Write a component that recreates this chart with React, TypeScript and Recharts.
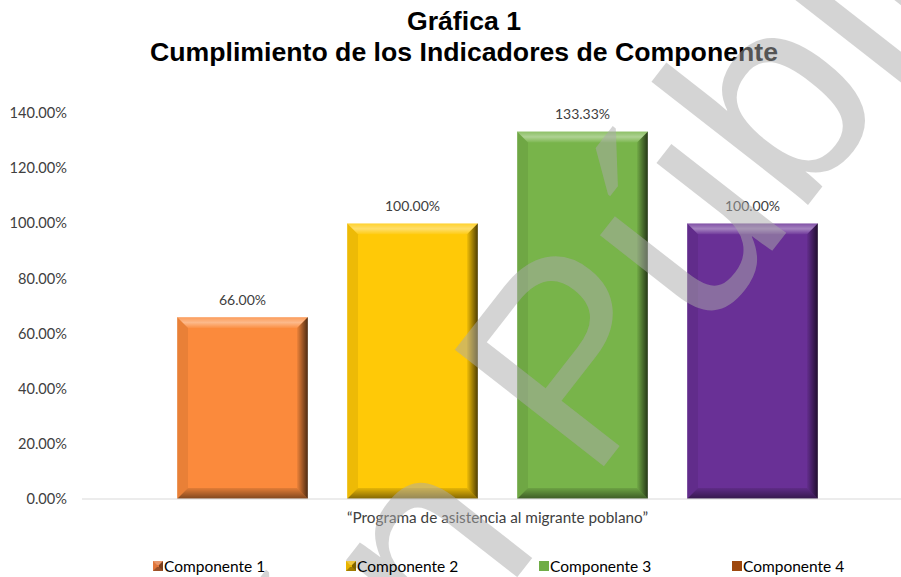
import React from 'react';
import { BarChart, Bar, XAxis, YAxis, LabelList } from 'recharts';

const categories = ['\u201cPrograma de asistencia al migrante poblano\u201d'];
const seriesNames = ['Componente 1', 'Componente 2', 'Componente 3', 'Componente 4'];
const componente1 = [0.66];
const componente2 = [1.0];
const componente3 = [1.3333];
const componente4 = [1.0];
const yTicks = [0, 0.2, 0.4, 0.6, 0.8, 1.0, 1.2, 1.4];
const titleLines = ['Gráfica 1', 'Cumplimiento de los Indicadores de Componente'];
const watermarkWords = ['Versión', 'Pública'];

const seriesValues = [componente1, componente2, componente3, componente4];
const barColors = ['#FB8A3C', '#FFC907', '#78B44A', '#693096'];
const legendColors = ['#E0753A', '#E8B400', '#70AD47', '#9E480E'];
const keys = ['c1', 'c2', 'c3', 'c4'];

const data = categories.map((name, i) => {
  const row: Record<string, any> = { name };
  keys.forEach((k, j) => {
    row[k] = seriesValues[j][i];
  });
  return row;
});

const fmt = (v: any) => (Number(v) * 100).toFixed(2) + '%';

const BevelBar = (props: any) => {
  const { x, y, width, height, fill, index } = props;
  if (!width || !height) return null;
  const w = width;
  const h = height;
  const b = Math.min(11, w / 2, h / 2);
  const gid = 'rg-' + fill.replace('#', '') + '-' + index;
  return (
    <g>
      <defs>
        <linearGradient id={gid} x1="0" y1="0" x2="1" y2="0">
          <stop offset="0" stopColor="#000" stopOpacity="0.05" />
          <stop offset="1" stopColor="#000" stopOpacity="0.7" />
        </linearGradient>
        <linearGradient id={gid + 'b'} x1="0" y1="0" x2="0" y2="1">
          <stop offset="0" stopColor="#000" stopOpacity="0.1" />
          <stop offset="1" stopColor="#000" stopOpacity="0.5" />
        </linearGradient>
        <linearGradient id={gid + 't'} x1="0" y1="0" x2="0" y2="1">
          <stop offset="0" stopColor="#fff" stopOpacity="0.15" />
          <stop offset="0.5" stopColor="#fff" stopOpacity="0.4" />
          <stop offset="1" stopColor="#fff" stopOpacity="0.05" />
        </linearGradient>
      </defs>
      <rect x={x} y={y} width={w} height={h} fill={fill} />
      <polygon
        points={`${x},${y} ${x + w},${y} ${x + w - b},${y + b} ${x + b},${y + b}`}
        fill={`url(#${gid}t)`}
      />
      <polygon
        points={`${x},${y} ${x + b},${y + b} ${x + b},${y + h - b} ${x},${y + h}`}
        fill="#000"
        fillOpacity={0.07}
      />
      <polygon
        points={`${x + w},${y} ${x + w},${y + h} ${x + w - b},${y + h - b} ${x + w - b},${y + b}`}
        fill={`url(#${gid})`}
      />
      <polygon
        points={`${x},${y + h} ${x + w},${y + h} ${x + w - b},${y + h - b} ${x + b},${y + h - b}`}
        fill={`url(#${gid}b)`}
      />
      <rect x={x} y={y} width={w} height={h} fill="none" stroke="#fff" strokeOpacity={0.35} strokeWidth={1} />
    </g>
  );
};

const LegendIcon = ({ color, bevel }: { color: string; bevel: boolean }) => (
  <svg width={10} height={10} style={{ display: 'block' }}>
    <rect x={0} y={0} width={10} height={10} fill={color} />
    {bevel && (
      <>
        <polygon points="10,0 10,10 6,6 6,4" fill="#000" fillOpacity={0.45} />
        <polygon points="0,10 10,10 6,6 4,6" fill="#000" fillOpacity={0.3} />
        <polygon points="0,0 10,0 6,4 4,4" fill="#fff" fillOpacity={0.25} />
      </>
    )}
  </svg>
);

export default function App() {
  return (
    <div style={{ position: 'absolute', left: 0, top: 0, width: 901, height: 577, background: '#fff', overflow: 'hidden' }}>
      <BarChart
        width={901}
        height={577}
        data={data}
        margin={{ top: 113, right: 0, bottom: 48, left: 0 }}
        barSize={131}
        barGap={39}
      >
        <XAxis
          dataKey="name"
          height={30}
          tickSize={0}
          tickMargin={13}
          padding={{ left: 12, right: 0 }}
          axisLine={{ stroke: '#D9D9D9', strokeWidth: 1 }}
          tick={{ fill: '#404040', fontSize: 15.3, fontFamily: 'Lato, sans-serif' }}
        />
        <YAxis
          width={82}
          domain={[0, 1.4]}
          ticks={yTicks}
          tickFormatter={fmt}
          axisLine={false}
          tickLine={false}
          tickSize={0}
          tickMargin={15}
          interval={0}
          tick={{ fill: '#404040', fontSize: 14.6, fontFamily: 'Lato, sans-serif' }}
        />
        {keys.map((k, i) => (
          <Bar key={k} dataKey={k} name={seriesNames[i]} fill={barColors[i]} shape={BevelBar} isAnimationActive={false}>
            <LabelList
              dataKey={k}
              position="top"
              offset={12}
              formatter={fmt}
              style={{ fill: '#404040', fontSize: 14, fontFamily: 'Lato, sans-serif' }}
            />
          </Bar>
        ))}
      </BarChart>

      <svg width={901} height={577} style={{ position: 'absolute', left: 0, top: 0, pointerEvents: 'none' }}>
        <text x={464} y={30} textAnchor="middle" fontFamily="'Liberation Sans', Arial, sans-serif" fontWeight="bold" fontSize={26.67} fill="#000">
          {titleLines[0]}
        </text>
        <text x={464} y={61} textAnchor="middle" fontFamily="'Liberation Sans', Arial, sans-serif" fontWeight="bold" fontSize={26.67} fill="#000">
          {titleLines[1]}
        </text>
        <g transform="translate(590,484) rotate(-52)">
          <text x={-76} y={0} textAnchor="end" fontFamily="'Liberation Sans', Arial, sans-serif" fontSize={275} fill="#A9A9A9" fillOpacity={0.5}>
            {watermarkWords[0]}
          </text>
          <text x={0} y={0} textAnchor="start" fontFamily="'Liberation Sans', Arial, sans-serif" fontSize={275} fill="#A9A9A9" fillOpacity={0.5}>
            {watermarkWords[1]}
          </text>
        </g>
      </svg>

      <div style={{ position: 'absolute', left: 153, top: 557, display: 'flex', fontFamily: 'Lato, sans-serif', fontSize: 15.5, color: '#000' }}>
        {seriesNames.map((n, i) => (
          <div key={n} style={{ width: 193, display: 'flex', alignItems: 'center' }}>
            <LegendIcon color={legendColors[i]} bevel={i < 2} />
            <span style={{ marginLeft: 1, lineHeight: '18px' }}>{n}</span>
          </div>
        ))}
      </div>
    </div>
  );
}
